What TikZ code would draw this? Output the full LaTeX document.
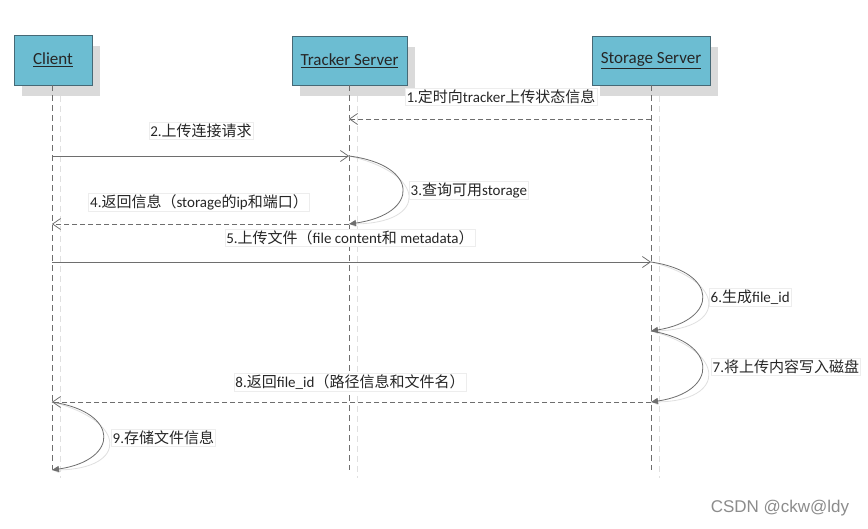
\documentclass[tikz,border=0pt]{standalone}
\usepackage{fontspec}
\setmainfont{Carlito}
\newfontfamily\cjk{Noto Sans CJK SC}
\newfontfamily\wmfont{Liberation Sans}
\usetikzlibrary{arrows.meta}
\newcommand\zh[1]{{\cjk #1}}
\definecolor{boxfill}{RGB}{108,189,210}
\definecolor{boxdraw}{RGB}{70,105,118}
\definecolor{linegray}{RGB}{110,110,110}
\definecolor{ghost}{RGB}{224,224,224}
\definecolor{shadowgray}{RGB}{218,218,218}
\definecolor{txt}{RGB}{38,38,38}
\newcommand\connectors{%
 \draw[dmsg,openarr] (s1) -- (t1);
 \draw[smsg,openarr] (c2) -- (t2);
 \draw[smsg,fillarr] (t2) .. controls (420,165) and (420,214) .. (t3);
 \draw[dmsg,openarr] (t3) -- (c4);
 \draw[smsg,openarr] (c5) -- (s5);
 \draw[smsg,fillarr] (s5) .. controls (719,272) and (719,320) .. (s6);
 \draw[smsg,fillarr] (s6) .. controls (719,342) and (719,392) .. (s8);
 \draw[dmsg,openarr] (s8) -- (c8);
 \draw[smsg,fillarr] (c8) .. controls (120,412) and (120,460) .. (c9);
}
\begin{document}
\begin{tikzpicture}[x=1pt,y=-1pt,
  actor/.style={draw=boxdraw, fill=boxfill, line width=0.9pt, inner sep=0pt,
    font=\fontsize{17}{20}\selectfont, text=txt},
  actshadow/.style={fill=shadowgray},
  msgc/.style={draw=linegray},
  smsg/.style={msgc, line width=0.8pt},
  dmsg/.style={msgc, line width=0.8pt, dash pattern=on 5pt off 3pt},
  openarr/.style={-{Straight Barb[length=8pt,width=11pt,line width=0.7pt]}},
  fillarr/.style={-{Triangle[length=7pt,width=6pt]}},
  lifeline/.style={draw=linegray, line width=0.8pt, dash pattern=on 6pt off 4pt},
  ghostline/.style={draw=ghost, line width=0.8pt, dash pattern=on 6pt off 4pt},
  lbl/.style={fill=white, draw=black!7, inner sep=1.5pt, text=txt,
    font=\fontsize{15}{17}\selectfont}]
\fill[white] (0,0) rectangle (868,528);
\useasboundingbox (0,0) rectangle (868,528);
% box shadows
\fill[actshadow] (22,46) rectangle (100,96);
\fill[actshadow] (300,47) rectangle (415,96);
\fill[actshadow] (600,47) rectangle (718,96);
% ghost lifelines
\draw[ghostline] (60,96) -- (60,478);
\draw[ghostline] (357,96) -- (357,478);
\draw[ghostline] (659,96) -- (659,478);
% actors
\node[actor, minimum width=78pt, minimum height=50pt] (client) at (53,60) {\underline{Client}};
\node[actor, minimum width=115pt, minimum height=49pt] (tracker) at (349.5,60.5) {\underline{Tracker Server}};
\node[actor, minimum width=118pt, minimum height=49pt] (storage) at (651,60.5) {\underline{Storage Server}};
% lifeline ends
\coordinate (cend) at (52,470);
\coordinate (tend) at (349,470);
\coordinate (send) at (651,470);
\draw[lifeline] (client.south -| cend) -- (cend);
\draw[lifeline] (tracker.south -| tend) -- (tend);
\draw[lifeline] (storage.south -| send) -- (send);
% message points
\coordinate (s1) at (651,119); \coordinate (t1) at (349,119);
\coordinate (c2) at (52,156);  \coordinate (t2) at (349,156);
\coordinate (t3) at (349,224); \coordinate (c4) at (52,224);
\coordinate (c5) at (52,262);  \coordinate (s5) at (651,262);
\coordinate (s6) at (651,331);
\coordinate (s8) at (651,402); \coordinate (c8) at (52,402);
\coordinate (c9) at (52,470);
% ghost connectors
\begin{scope}[shift={(8,9)}, msgc/.style={draw=ghost}]
\connectors
\end{scope}
\connectors
% labels
\node[lbl] (l1) at (501,97) {1.\zh{定时向}tracker\zh{上传状态信息}};
\node[lbl] (l2) at (201,131) {2.\zh{上传连接请求}};
\node[lbl, anchor=west] (l3) at (409,190) {3.\zh{查询可用}storage};
\node[lbl] (l4) at (199,202) {4.\zh{返回信息（}storage\zh{的}ip\zh{和端口）}};
\node[lbl] (l5) at (350,238) {5.\zh{上传文件（}file content\zh{和} metadata\zh{）}};
\node[lbl, anchor=west] (l6) at (709,297) {6.\zh{生成}file\_id};
\node[lbl, anchor=west] (l7) at (711,367) {7.\zh{将上传内容写入磁盘}};
\node[lbl] (l8) at (350,382) {8.\zh{返回}file\_id\zh{（路径信息和文件名）}};
\node[lbl, anchor=west] (l9) at (111,438) {9.\zh{存储文件信息}};
% watermark
\node[text=black!45, font=\wmfont\fontsize{17}{19}\selectfont] (wm) at (780,508) {CSDN @ckw@ldy};
\end{tikzpicture}
\end{document}
